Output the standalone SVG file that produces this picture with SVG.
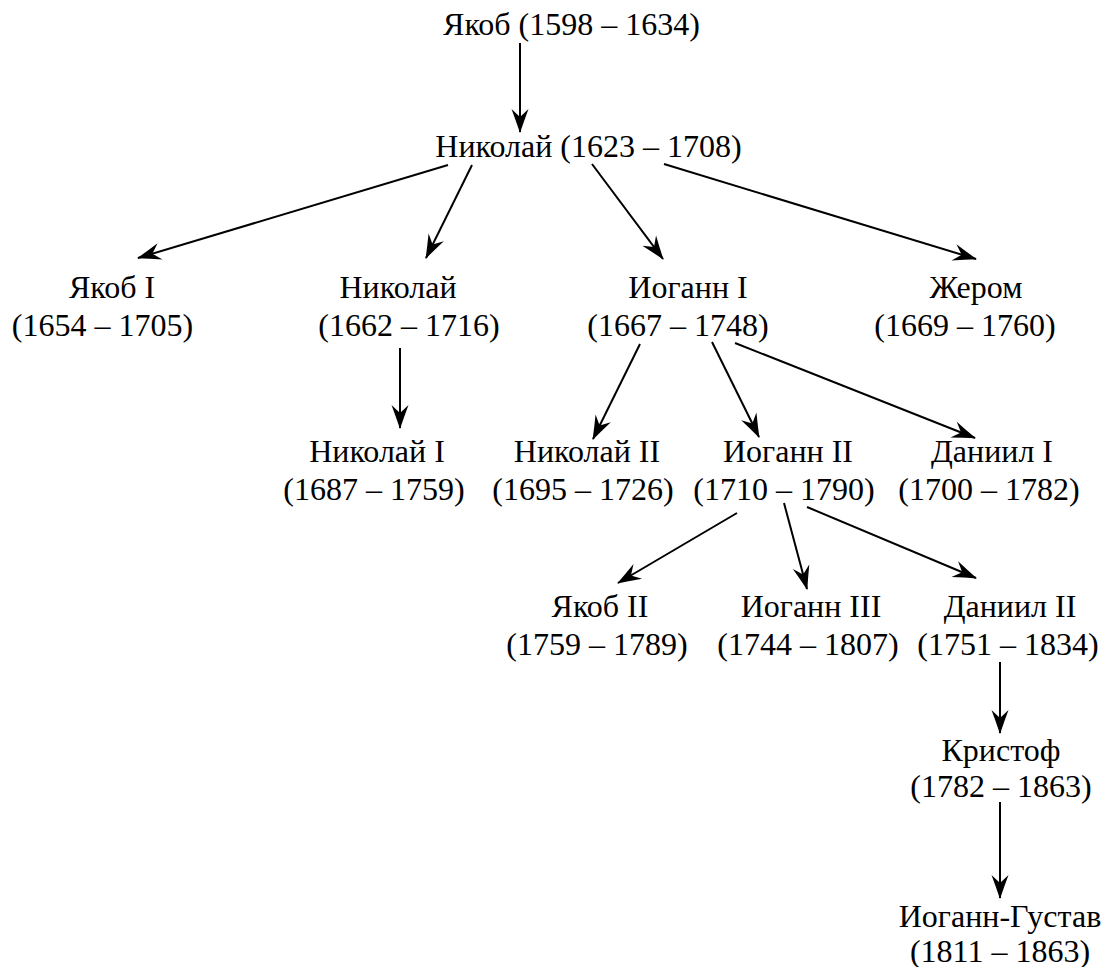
<svg xmlns="http://www.w3.org/2000/svg" width="1102" height="967" viewBox="0 0 1102 967">
<style>
text{font-family:"Liberation Serif","Times New Roman",serif;font-size:32px;fill:#000;text-anchor:middle}
.c line{stroke:#000;stroke-width:2;marker-end:url(#ah)}
</style>
<defs>
<marker id="ah" markerUnits="userSpaceOnUse" viewBox="-26 -10 28 20" refX="0" refY="0" markerWidth="28" markerHeight="20" orient="auto">
<path d="M1,0 Q-11,-4 -23,-8.5 L-15,0 L-23,8.5 Q-11,4 1,0 Z" fill="#000"/>
</marker>
</defs>
<rect width="1102" height="967" fill="#fff"/>
<g class="c" id="connectors">
<line x1="520" y1="43" x2="520" y2="132"/>
<line x1="448" y1="165" x2="138" y2="258"/>
<line x1="472" y1="165" x2="426" y2="258"/>
<line x1="592" y1="164" x2="663" y2="259"/>
<line x1="664" y1="164" x2="976" y2="259"/>
<line x1="400" y1="348" x2="400" y2="428"/>
<line x1="640" y1="344" x2="593" y2="439"/>
<line x1="712" y1="342" x2="759" y2="437"/>
<line x1="735" y1="343" x2="975" y2="438"/>
<line x1="737" y1="513" x2="618" y2="583"/>
<line x1="784" y1="503" x2="807" y2="589"/>
<line x1="807" y1="507" x2="976" y2="578"/>
<line x1="1000" y1="662" x2="1000" y2="733"/>
<line x1="1000" y1="802" x2="1000" y2="898"/>
</g>
<g id="n-jakob"><text x="571.5" y="35">Якоб (1598 – 1634)</text></g>
<g id="n-nikolaj"><text x="588.5" y="157">Николай (1623 – 1708)</text></g>
<g id="n-jakob1"><text x="112" y="298">Якоб I</text><text x="102.5" y="336">(1654 – 1705)</text></g>
<g id="n-nikolaj-jr"><text x="398" y="298">Николай</text><text x="409" y="336">(1662 – 1716)</text></g>
<g id="n-johann1"><text x="688" y="298">Иоганн I</text><text x="678" y="336">(1667 – 1748)</text></g>
<g id="n-jerom"><text x="976" y="298">Жером</text><text x="965" y="336">(1669 – 1760)</text></g>
<g id="n-nikolaj1"><text x="377" y="462">Николай I</text><text x="374" y="500">(1687 – 1759)</text></g>
<g id="n-nikolaj2"><text x="587" y="462">Николай II</text><text x="583" y="500">(1695 – 1726)</text></g>
<g id="n-johann2"><text x="788" y="462">Иоганн II</text><text x="784" y="500">(1710 – 1790)</text></g>
<g id="n-daniil1"><text x="992" y="462">Даниил I</text><text x="989" y="500">(1700 – 1782)</text></g>
<g id="n-jakob2"><text x="600" y="617">Якоб II</text><text x="597" y="655">(1759 – 1789)</text></g>
<g id="n-johann3"><text x="811" y="617">Иоганн III</text><text x="808" y="655">(1744 – 1807)</text></g>
<g id="n-daniil2"><text x="1010" y="617">Даниил II</text><text x="1008" y="655">(1751 – 1834)</text></g>
<g id="n-christoph"><text x="1001" y="761">Кристоф</text><text x="1001" y="797">(1782 – 1863)</text></g>
<g id="n-johann-gustav"><text x="1000" y="927">Иоганн-Густав</text><text x="1000" y="962">(1811 – 1863)</text></g>
</svg>
